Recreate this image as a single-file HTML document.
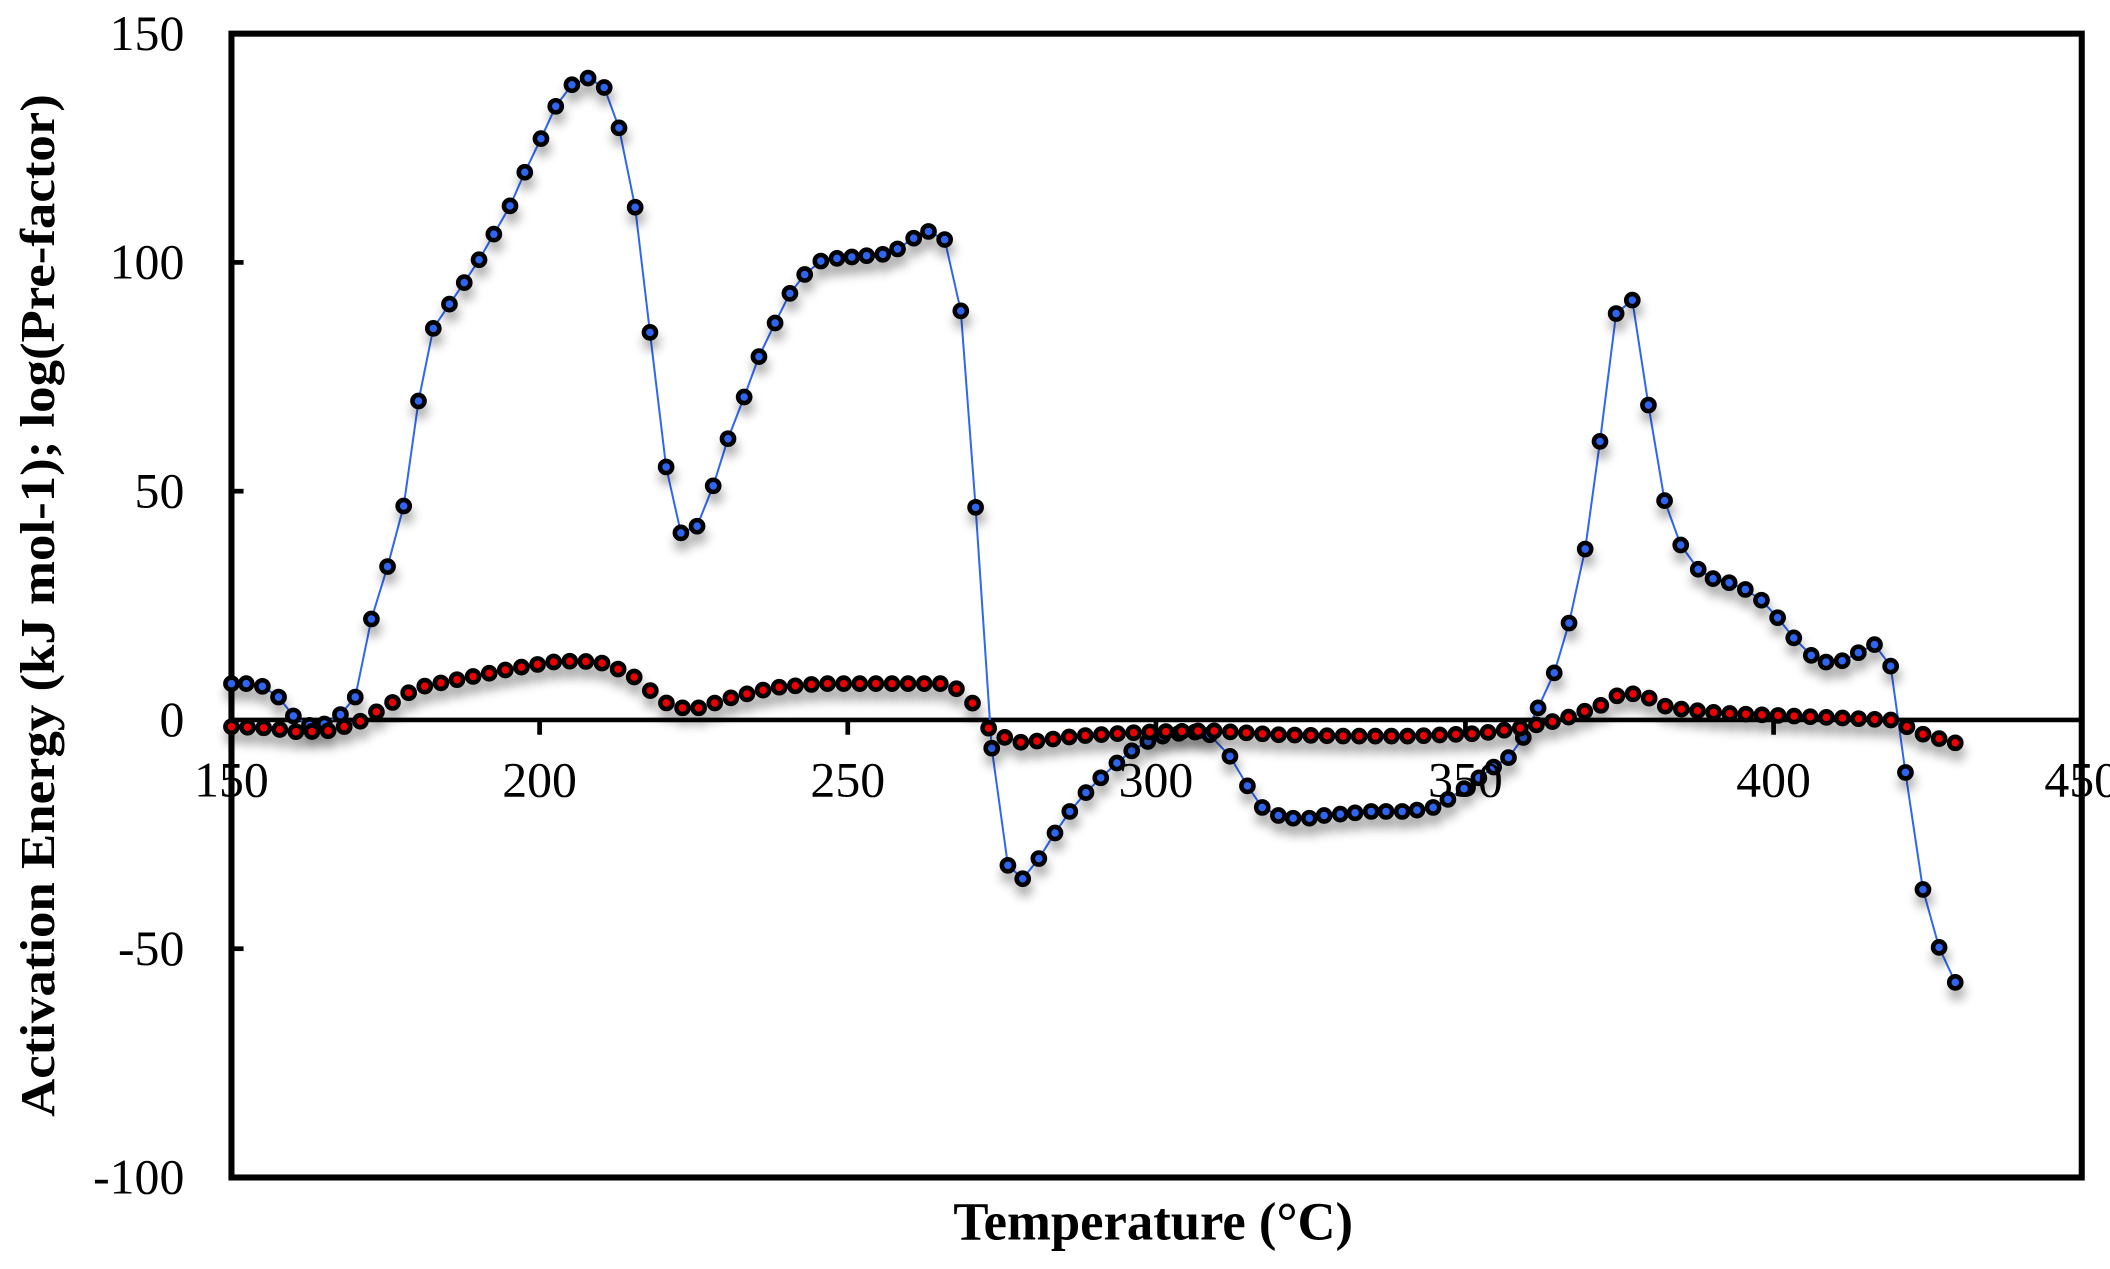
<!DOCTYPE html>
<html><head><meta charset="utf-8"><style>
html,body{margin:0;padding:0;background:#fff;}
svg{display:block;}
</style></head><body>
<svg id="s" width="2110" height="1269" viewBox="0 0 1568 943" preserveAspectRatio="none" xmlns="http://www.w3.org/2000/svg">
<defs>
<filter id="sh" x="-20%" y="-20%" width="140%" height="160%">
<feGaussianBlur in="SourceAlpha" stdDeviation="4"/>
<feOffset dx="1" dy="7" result="b"/>
<feComponentTransfer><feFuncA type="linear" slope="0.35"/></feComponentTransfer>
<feMerge><feMergeNode/><feMergeNode in="SourceGraphic"/></feMerge>
</filter>
</defs>
<rect x="0" y="0" width="1568" height="943" fill="#fff"/>
<g id="axes" stroke="#000" fill="none">
<rect x="172" y="25" width="1375" height="850" stroke-width="4.5"/>
<line x1="172" y1="535" x2="1547" y2="535" stroke-width="3.5"/>
</g>
<g id="ticks" stroke="#000" stroke-width="3.5"></g>
<g id="series"></g>
<g font-family="'Liberation Serif', serif" font-size="37" fill="#000">
<text x="137" y="37" text-anchor="end">150</text>
<text x="137" y="207" text-anchor="end">100</text>
<text x="137" y="377" text-anchor="end">50</text>
<text x="137" y="547" text-anchor="end">0</text>
<text x="137" y="717" text-anchor="end">-50</text>
<text x="137" y="887" text-anchor="end">-100</text>
<text x="172" y="592" text-anchor="middle">150</text>
<text x="401" y="592" text-anchor="middle">200</text>
<text x="630" y="592" text-anchor="middle">250</text>
<text x="859" y="592" text-anchor="middle">300</text>
<text x="1089" y="592" text-anchor="middle">350</text>
<text x="1318" y="592" text-anchor="middle">400</text>
<text x="1547" y="592" text-anchor="middle">450</text>
</g>
<text x="857" y="921" font-family="'Liberation Serif', serif" font-weight="bold" font-size="40" text-anchor="middle" textLength="297" lengthAdjust="spacingAndGlyphs">Temperature (°C)</text>
<text transform="translate(40,450) rotate(-90)" font-family="'Liberation Serif', serif" font-weight="bold" font-size="36" text-anchor="middle" textLength="760" lengthAdjust="spacingAndGlyphs">Activation Energy (kJ mol-1); log(Pre-factor)</text>
</svg>
<script>
var NS="http://www.w3.org/2000/svg";
var tk=document.getElementById("ticks");
function ln(x1,y1,x2,y2){var l=document.createElementNS(NS,"line");l.setAttribute("x1",x1);l.setAttribute("y1",y1);l.setAttribute("x2",x2);l.setAttribute("y2",y2);tk.appendChild(l);}
[195,365,705].forEach(function(y){ln(172,y,181,y);});
[401,630,859,1089,1318].forEach(function(x){ln(x,535,x,546);});
var B=[[172,508],[183,508],[195,510],[207,518],[218,532],[230,539],[241,538],[253,531],[264,518],[276,460],[288,421],[300,376],[311,298],[322,244],[334,226],[345,210],[356,193],[367,174],[379,153],[390,128],[402,103],[413,79],[425,63],[437,58],[449,65],[460,95],[472,154],[483,247],[495,347],[506,396],[518,391],[530,361],[541,326],[553,295],[564,265],[576,240],[587,218],[598,204],[610,194],[622,192],[633,191],[644,190],[656,189],[667,185],[679,177],[690,172],[702,178],[714,231],[725,377],[737,556],[749,643],[760,653],[772,638],[784,619],[795,603],[807,589],[818,578],[830,567],[841,558],[853,551],[864,547],[876,545],[888,544],[899,546],[914,562],[927,584],[938,600],[950,606],[961,608],[973,608],[984,606],[996,605],[1007,604],[1019,603],[1030,603],[1042,603],[1053,602],[1065,600],[1076,594],[1088,586],[1099,578],[1110,570],[1121,563],[1132,548],[1143,526],[1155,500],[1166,463],[1178,408],[1189,328],[1201,233],[1213,223],[1225,301],[1237,372],[1249,405],[1262,423],[1273,430],[1285,433],[1297,438],[1309,446],[1321,459],[1333,474],[1346,487],[1357,492],[1369,491],[1381,485],[1393,479],[1405,495],[1416,574],[1429,661],[1441,704],[1453,730]];
var red=[[172,540],[200,541],[222,544],[245,543],[266,537],[290,523],[310,511],[340,505],[380,497],[410,492],[430,491],[450,493],[470,502],[483,513],[500,526],[520,526],[545,518],[575,511],[610,508],[650,508],[700,508],[714,513],[725,525],[737,545],[760,552],[800,547],[850,544],[900,543],[950,546],[1000,547],[1050,547],[1100,545],[1130,541],[1160,535],[1190,524],[1205,515],[1220,516],[1240,526],[1280,530],[1330,532],[1380,534],[1405,535],[1417,540],[1430,546],[1453,552]];
function interp(a,x){for(var i=0;i<a.length-1;i++){if(x>=a[i][0]&&x<=a[i+1][0]){var t=(x-a[i][0])/(a[i+1][0]-a[i][0]);return a[i][1]+t*(a[i+1][1]-a[i][1]);}}return a[a.length-1][1];}
var g=document.getElementById("series");
var d="";B.forEach(function(p,i){d+=(i?"L":"M")+p[0]+","+p[1];});
var pl=document.createElementNS(NS,"path");pl.setAttribute("d",d);pl.setAttribute("fill","none");pl.setAttribute("stroke","#2f66f2");pl.setAttribute("stroke-width","1.5");g.appendChild(pl);
function dots(pts,fill){var gg=document.createElementNS(NS,"g");gg.setAttribute("filter","url(#sh)");pts.forEach(function(p){var c=document.createElementNS(NS,"circle");c.setAttribute("cx",p[0]);c.setAttribute("cy",p[1]);c.setAttribute("r","4.5");c.setAttribute("fill",fill);c.setAttribute("stroke","#000");c.setAttribute("stroke-width","3.4");gg.appendChild(c);});g.appendChild(gg);}
dots(B,"#2f66f2");
var R=[];var n=107;for(var i=0;i<=n;i++){var x=172+(1453-172)*i/n;R.push([x,interp(red,x)]);}
dots(R,"#ee0000");
</script>
</body></html>
